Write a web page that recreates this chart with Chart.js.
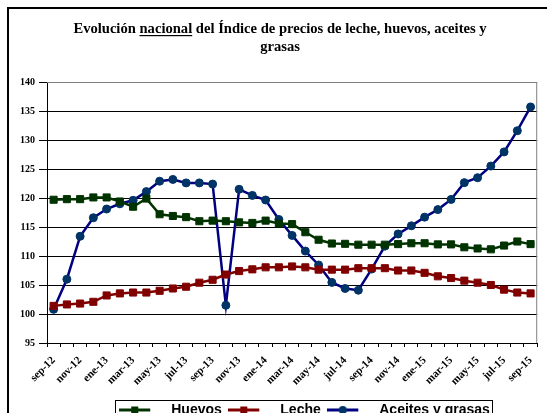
<!DOCTYPE html>
<html lang="es">
<head>
<meta charset="utf-8">
<title>Índice de precios de leche, huevos, aceites y grasas</title>
<script src="https://cdn.jsdelivr.net/npm/chart.js@4.4.1/dist/chart.umd.min.js"></script>
<style>
  html, body { margin: 0; padding: 0; background: #fff; overflow: hidden; width: 547px; height: 413px; }
  #wrap { position: relative; width: 547px; height: 430px; }
  canvas { display: block; }
</style>
</head>
<body>
<div id="wrap"><canvas id="grafico" width="547" height="430"></canvas></div>
<script>
// Meses (sep-12 a sep-15)
const categorias = [
  'sep-12','oct-12','nov-12','dic-12','ene-13','feb-13','mar-13','abr-13','may-13','jun-13',
  'jul-13','ago-13','sep-13','oct-13','nov-13','dic-13','ene-14','feb-14','mar-14','abr-14',
  'may-14','jun-14','jul-14','ago-14','sep-14','oct-14','nov-14','dic-14','ene-15','feb-15',
  'mar-15','abr-15','may-15','jun-15','jul-15','ago-15','sep-15'
];

// Índice de precios por grupo
const huevos = [
  119.7, 119.8, 119.8, 120.1, 120.1, 119.4, 118.5, 119.9, 117.2, 116.9,
  116.7, 116.0, 116.1, 116.0, 115.8, 115.7, 116.1, 115.6, 115.5, 114.1,
  112.8, 112.15, 112.1, 111.95, 111.95, 111.95, 112.05, 112.2, 112.2, 112.0,
  112.0, 111.5, 111.3, 111.15, 111.8, 112.5, 112.05
];
const leche = [
  101.4, 101.65, 101.8, 102.1, 103.2, 103.55, 103.7, 103.7, 104.0, 104.4,
  104.7, 105.4, 105.9, 106.8, 107.4, 107.7, 108.05, 108.05, 108.2, 108.05,
  107.65, 107.65, 107.65, 107.9, 107.9, 107.9, 107.5, 107.5, 107.1, 106.5,
  106.2, 105.75, 105.4, 105.0, 104.2, 103.7, 103.55
];
const aceitesYGrasas = [
  100.8, 106.0, 113.4, 116.6, 118.1, 119.0, 119.6, 121.1, 122.9, 123.2,
  122.6, 122.6, 122.4, 101.5, 121.5, 120.45, 119.65, 116.3, 113.55, 110.85,
  108.45, 105.45, 104.4, 104.1, 107.75, 111.7, 113.8, 115.2, 116.7, 118.0,
  119.75, 122.65, 123.5, 125.5, 127.95, 131.6, 135.7
];

// Eje de valores
const ejeMin = 95;
const ejeMax = 140;
const ejePaso = 5;

// Título (la palabra central va subrayada)
const tituloAntes = 'Evolución ';
const tituloSubrayado = 'nacional';
const tituloDespues = ' del Índice de precios de leche, huevos, aceites y';
const tituloLinea2 = 'grasas';

const nombresSeries = ['Huevos', 'Leche', 'Aceites y grasas'];

const VERDE = '#003300';
const ROJO = '#800000';
const AZUL_LINEA = '#000080';
const AZUL_PUNTO = '#003366';
const SERIF = '"Liberation Serif", "Times New Roman", serif';
const SANS = '"Liberation Sans", Arial, sans-serif';

// Símbolo de leyenda: tramo de línea con el marcador al centro
function simbolo(colorLinea, colorMarcador, forma) {
  const c = document.createElement('canvas');
  c.width = 45; c.height = 12;
  const g = c.getContext('2d');
  g.strokeStyle = colorLinea;
  g.lineWidth = 3;
  g.beginPath(); g.moveTo(0, 6); g.lineTo(31, 6); g.stroke();
  g.fillStyle = colorMarcador;
  if (forma === 'rect') {
    g.fillRect(12, 2.5, 7, 7);
  } else {
    g.beginPath(); g.arc(15.5, 6, 4, 0, Math.PI * 2); g.fill();
  }
  return c;
}
const simbolos = [
  simbolo(VERDE, VERDE, 'rect'),
  simbolo(ROJO, ROJO, 'rect'),
  simbolo(AZUL_LINEA, AZUL_PUNTO, 'circle')
];

// Marco exterior, título, borde del área de trazado y recuadro de la leyenda
const decoracion = {
  id: 'decoracion',
  afterLayout(chart) {
    // la fila de la leyenda queda desplazada a la derecha
    chart.legend.left = 66;
  },
  beforeDraw(chart) {
    const ctx = chart.ctx;
    ctx.save();
    ctx.fillStyle = '#fff';
    ctx.fillRect(0, 0, chart.width, chart.height);
    ctx.strokeStyle = '#000';
    ctx.lineWidth = 2;
    ctx.strokeRect(8, 8, chart.width + 40, chart.height + 40);

    ctx.fillStyle = '#000';
    ctx.font = 'bold 14.6px ' + SERIF;
    ctx.textBaseline = 'alphabetic';
    ctx.textAlign = 'left';
    const wA = ctx.measureText(tituloAntes).width;
    const wB = ctx.measureText(tituloSubrayado).width;
    const wC = ctx.measureText(tituloDespues).width;
    const cx = 280;
    let x = cx - (wA + wB + wC) / 2;
    const y1 = 33;
    ctx.fillText(tituloAntes, x, y1);
    ctx.fillText(tituloSubrayado, x + wA, y1);
    ctx.fillRect(x + wA, y1 + 2, wB, 1.2);
    ctx.fillText(tituloDespues, x + wA + wB, y1);
    ctx.textAlign = 'center';
    ctx.fillText(tituloLinea2, cx, 51);
    ctx.restore();
  },
  beforeDatasetsDraw(chart) {
    const {ctx, chartArea: a} = chart;
    ctx.save();
    ctx.strokeStyle = '#808080';
    ctx.lineWidth = 1;
    ctx.beginPath();
    ctx.moveTo(a.left, a.top + 0.5);
    ctx.lineTo(a.right - 0.5, a.top + 0.5);
    ctx.lineTo(a.right - 0.5, a.bottom);
    ctx.stroke();
    ctx.restore();
  },
  afterDraw(chart) {
    const hb = chart.legend.legendHitBoxes;
    if (!hb || !hb.length) return;
    const ctx = chart.ctx;
    const first = hb[0], last = hb[hb.length - 1];
    ctx.save();
    ctx.strokeStyle = '#000';
    ctx.lineWidth = 1;
    ctx.strokeRect(Math.round(first.left) - 3.5, Math.round(first.top) - 2.5,
                   Math.round(last.left + last.width - first.left) + 6, 40);
    ctx.restore();
  }
};

new Chart(document.getElementById('grafico'), {
  type: 'line',
  data: {
    labels: categorias,
    datasets: [
      {
        label: nombresSeries[0], data: huevos,
        borderColor: VERDE, backgroundColor: VERDE, borderWidth: 2.5,
        pointStyle: 'rect', pointRadius: 5, pointBorderWidth: 1,
        pointBackgroundColor: VERDE, pointBorderColor: VERDE, tension: 0
      },
      {
        label: nombresSeries[1], data: leche,
        borderColor: ROJO, backgroundColor: ROJO, borderWidth: 2.5,
        pointStyle: 'rect', pointRadius: 5, pointBorderWidth: 1,
        pointBackgroundColor: ROJO, pointBorderColor: ROJO, tension: 0
      },
      {
        label: nombresSeries[2], data: aceitesYGrasas,
        borderColor: AZUL_LINEA, backgroundColor: AZUL_PUNTO, borderWidth: 2.5,
        pointStyle: 'circle', pointRadius: 4, pointBorderWidth: 1,
        pointBackgroundColor: AZUL_PUNTO, pointBorderColor: AZUL_PUNTO, tension: 0
      }
    ]
  },
  options: {
    responsive: false,
    animation: false,
    devicePixelRatio: 1,
    layout: { padding: { top: 82, left: 0, right: 4, bottom: 3 } },
    plugins: {
      title: { display: false },
      tooltip: { enabled: false },
      legend: {
        display: true,
        position: 'bottom',
        labels: {
          usePointStyle: true,
          pointStyleWidth: 45,
          padding: 6.5,
          color: '#000',
          font: { family: SANS, size: 14, weight: 'bold' },
          generateLabels(chart) {
            const items = Chart.defaults.plugins.legend.labels.generateLabels(chart);
            items.forEach((it, i) => { it.pointStyle = simbolos[i]; });
            return items;
          }
        }
      }
    },
    scales: {
      x: {
        offset: true,
        grid: { display: true, drawOnChartArea: false, drawTicks: true, tickLength: 4, tickColor: '#000', offset: true },
        border: { display: true, color: '#000', width: 1 },
        ticks: {
          autoSkip: false, minRotation: 45, maxRotation: 45, padding: 7,
          color: '#000',
          font: { family: SERIF, size: 11, weight: 'bold' },
          callback(value, index) { return index % 2 === 0 ? categorias[index] : ''; }
        },
        afterFit(scale) { scale.height = 53.5; }
      },
      y: {
        min: ejeMin, max: ejeMax,
        grid: {
          color(ctx) { return ctx.tick && ctx.tick.value === ejeMax ? '#808080' : '#000'; },
          tickColor: '#000', tickLength: 8, lineWidth: 1
        },
        border: { display: true, color: '#000', width: 1 },
        ticks: {
          stepSize: ejePaso, padding: 4, color: '#000',
          font: { family: SERIF, size: 10, weight: 'bold' }
        },
        afterFit(scale) { scale.width = 47; }
      }
    }
  },
  plugins: [decoracion]
});
</script>
</body>
</html>
